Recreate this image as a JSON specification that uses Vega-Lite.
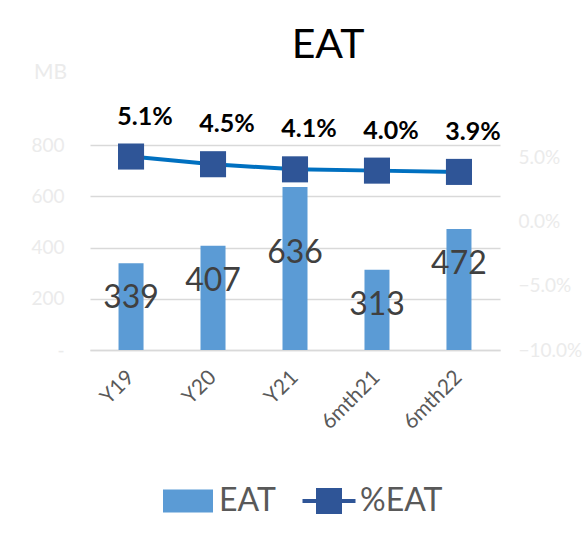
{
  "$schema": "https://vega.github.io/schema/vega-lite/v6.json",
  "width": 410,
  "height": 205,
  "autosize": "none",
  "padding": {"left": 90, "top": 145, "right": 87, "bottom": 194},
  "background": "white",
  "config": {"font": "Lato", "view": {"stroke": null}},
  "title": {"text": "EAT", "fontSize": 41, "fontWeight": "normal", "color": "#000000", "anchor": "middle", "dx": 33, "offset": -6},
  "data": {"values": [
    {"cat": "Y19", "EAT": 339, "pct": 0.051},
    {"cat": "Y20", "EAT": 407, "pct": 0.045},
    {"cat": "Y21", "EAT": 636, "pct": 0.041},
    {"cat": "6mth21", "EAT": 313, "pct": 0.040},
    {"cat": "6mth22", "EAT": 472, "pct": 0.039}
  ]},
  "encoding": {
    "x": {"field": "cat", "type": "nominal", "sort": null, "title": null,
      "scale": {"paddingInner": 0.695, "paddingOuter": 0.348},
      "axis": {"labelAngle": -45, "labelAlign": "right", "labelBaseline": "middle", "labelPadding": 24, "labelColor": "#595959", "labelFontSize": 21, "ticks": false, "domain": true, "domainColor": "#d9d9d9", "domainWidth": 1.5}}
  },
  "layer": [
    {
      "encoding": {
        "y": {"field": "EAT", "type": "quantitative", "scale": {"domain": [0, 800], "nice": false},
          "axis": {"orient": "left", "values": [0, 200, 400, 600, 800], "labelExpr": "datum.value === 0 ? '-' : datum.label", "labelColor": "#ebebeb", "labelFontSize": 19, "labelPadding": 26, "ticks": false, "domain": false, "grid": true, "gridColor": "#d9d9d9", "gridWidth": 1.5,
            "title": "MB", "titleAngle": 0, "titleColor": "#ebebeb", "titleFontSize": 21, "titleFontWeight": "normal", "titleX": -40, "titleY": -73, "titleAlign": "center", "titleBaseline": "middle"}}
      },
      "layer": [
        {"mark": {"type": "bar"},
         "encoding": {"color": {"datum": "EAT", "type": "nominal",
           "scale": {"domain": ["EAT", "%EAT"], "range": ["#5b9bd5", "#2f5597"]},
           "legend": {"title": null, "orient": "none", "direction": "horizontal", "legendX": 73, "legendY": 331,
             "symbolSize": 2500, "labelFontSize": 32, "labelColor": "#595959", "labelOffset": 6, "columnPadding": 26, "labelLimit": 200,
             "encode": {"symbols": {"update": {
               "shape": {"signal": "datum.value === 'EAT' ? 'M-1,-0.46H1V0.46H-1Z' : 'M-1.06,-0.08H1.06V0.08H-1.06ZM-0.52,-0.52H0.52V0.52H-0.52Z'"},
               "strokeWidth": {"value": 0},
               "opacity": {"value": 1}}}}}}}},
        {"transform": [{"filter": "datum.EAT < 600"}],
         "mark": {"type": "text", "dy": 35, "baseline": "middle", "fontSize": 32, "color": "#404040"},
         "encoding": {"text": {"field": "EAT", "type": "quantitative"}}},
        {"transform": [{"filter": "datum.EAT >= 600"}],
         "mark": {"type": "text", "dy": 66, "baseline": "middle", "fontSize": 32, "color": "#404040"},
         "encoding": {"text": {"field": "EAT", "type": "quantitative"}}}
      ]
    },
    {
      "encoding": {
        "y": {"field": "pct", "type": "quantitative", "scale": {"domain": [-0.1, 0.06], "nice": false},
          "axis": {"orient": "right", "values": [-0.1, -0.05, 0, 0.05], "format": ".1%", "labelColor": "#ebebeb", "labelFontSize": 19, "labelPadding": 18, "ticks": false, "domain": false, "grid": false, "title": null}}
      },
      "layer": [
        {"mark": {"type": "line", "color": "#0070c0", "strokeWidth": 4}},
        {"mark": {"type": "point", "shape": "square", "filled": true, "opacity": 1, "size": 680},
         "encoding": {"color": {"datum": "%EAT", "type": "nominal"}}},
        {"mark": {"type": "text", "dy": -40, "dx": 14, "baseline": "middle", "fontSize": 25, "fontWeight": "bold", "color": "#000000"},
         "encoding": {"text": {"field": "pct", "type": "quantitative", "format": ".1%"}}}
      ]
    }
  ],
  "resolve": {"scale": {"y": "independent"}}
}
